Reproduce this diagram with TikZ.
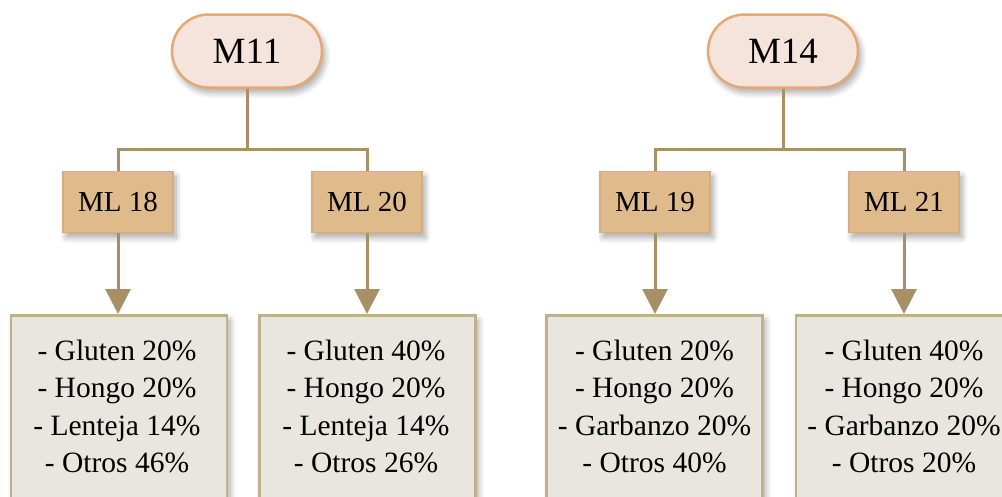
\documentclass[tikz,border=0pt]{standalone}
\usepackage{fontspec}
\setmainfont{Liberation Serif}
\usetikzlibrary{shapes.misc,arrows.meta,shadows.blur}
\definecolor{pillfill}{HTML}{F5E4DC}
\definecolor{pillline}{HTML}{E3A873}
\definecolor{midfill}{HTML}{DFBA8B}
\definecolor{midline}{HTML}{D6AE7E}
\definecolor{leaffill}{HTML}{E9E6E0}
\definecolor{leafline}{HTML}{C2AF8D}
\definecolor{wire}{HTML}{A98F66}
\tikzset{
  softshadow/.style={blur shadow={shadow xshift=3pt,shadow yshift=-5pt,
      shadow blur radius=6pt,shadow blur steps=10,shadow opacity=35}},
  rootbox/.style={rounded rectangle,draw=pillline,line width=2.5pt,fill=pillfill,
      minimum width=150pt,minimum height=73pt,inner sep=0pt,softshadow,
      font=\fontsize{37}{40}\selectfont},
  midbox/.style={rectangle,draw=midline,line width=1.5pt,fill=midfill,
      minimum width=110pt,minimum height=61pt,inner sep=0pt,softshadow,
      font=\fontsize{29}{34}\selectfont},
  leafbox/.style={rectangle,draw=leafline,line width=2.5pt,fill=leaffill,
      minimum width=216pt,minimum height=200pt,inner sep=0pt,anchor=north,softshadow},
  leaftext/.style={anchor=north,inner sep=0pt,align=center,
      font=\fontsize{29.5}{37.3}\selectfont},
  wireline/.style={draw=wire,line width=3pt},
  arrowline/.style={wireline,-{Triangle[width=25pt,length=25pt]}}
}
\begin{document}
\begin{tikzpicture}[x=1pt,y=-1pt]
\useasboundingbox (0,0) rectangle (1002,496);

% top level
\node[rootbox] (m11) at (247,51) {M11};
\node[rootbox] (m14) at (783,51) {M14};

% second level
\node[midbox] (ml18) at (118,202) {ML 18};
\node[midbox] (ml20) at (367,202) {ML 20};
\node[midbox] (ml19) at (655,202) {ML 19};
\node[midbox] (ml21) at (904,202) {ML 21};

% leaf boxes
\node[leafbox] (b1) at (119,314) {};
\node[leafbox] (b2) at (367.5,314) {};
\node[leafbox] (b3) at (654.5,314) {};
\node[leafbox] (b4) at (904,314) {};

\node[leaftext] (t1) at (117,340) {- Gluten 20\%\\- Hongo 20\%\\- Lenteja 14\%\\- Otros 46\%};
\node[leaftext] (t2) at (366,340) {- Gluten 40\%\\- Hongo 20\%\\- Lenteja 14\%\\- Otros 26\%};
\node[leaftext] (t3) at (654.5,340) {- Gluten 20\%\\- Hongo 20\%\\- Garbanzo 20\%\\- Otros 40\%};
\node[leaftext] (t4) at (904,340) {- Gluten 40\%\\- Hongo 20\%\\- Garbanzo 20\%\\- Otros 20\%};

% branch connectors
\coordinate (j1) at (247,149);
\coordinate (j2) at (783,149);
\draw[wireline] (m11.south) -- (j1);
\draw[wireline] (ml18.north) |- (j1) -| (ml20.north);
\draw[wireline] (m14.south) -- (j2);
\draw[wireline] (ml19.north) |- (j2) -| (ml21.north);

% arrows to leaves
\draw[arrowline] (ml18.south) -- (b1.north -| ml18.south);
\draw[arrowline] (ml20.south) -- (b2.north -| ml20.south);
\draw[arrowline] (ml19.south) -- (b3.north -| ml19.south);
\draw[arrowline] (ml21.south) -- (b4.north -| ml21.south);
\end{tikzpicture}
\end{document}
